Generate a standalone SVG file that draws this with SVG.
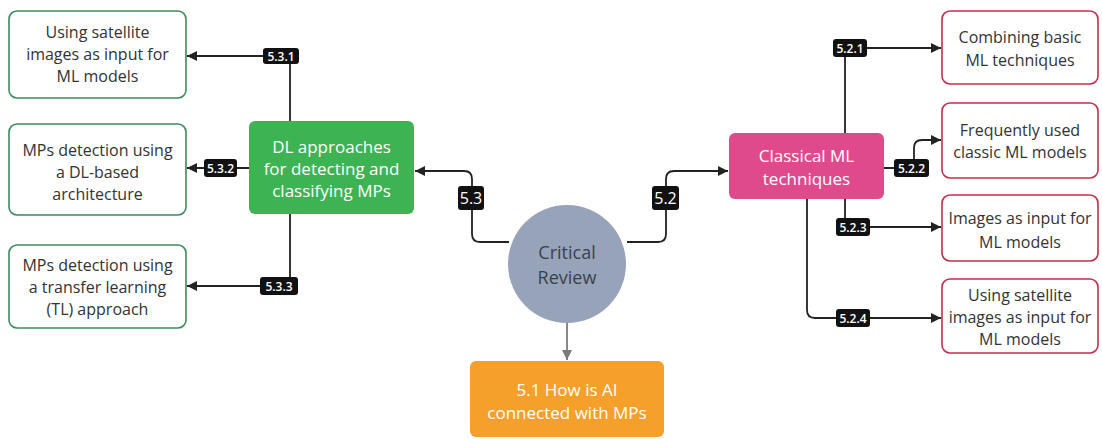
<svg xmlns="http://www.w3.org/2000/svg" width="1102" height="439" viewBox="0 0 1102 439">
  <style>
    text { font-family: "Open Sans", "Noto Sans", "Liberation Sans", sans-serif; text-anchor: middle; }
    .leaf-g { fill: #ffffff; stroke: #3d8a5c; stroke-width: 1.6; }
    .leaf-r { fill: #ffffff; stroke: #c0304f; stroke-width: 1.6; }
    .leaf-t { font-size: 16px; fill: #333333; }
    .hub-t { font-size: 17px; fill: #ffffff; }
    .edge { fill: none; stroke: #222222; stroke-width: 1.8; }
    .edge-gray { fill: none; stroke: #7a7a7a; stroke-width: 1.8; }
    .tag { fill: #111111; }
    .tag-t { font-size: 12px; font-weight: 600; fill: #ffffff; }
    .tag-big { font-size: 16px; fill: #ffffff; }
  </style>
  <defs>
    <marker id="arrow" viewBox="0 0 10 10" refX="10" refY="5" markerWidth="10" markerHeight="10" markerUnits="userSpaceOnUse" orient="auto">
      <path d="M0,0 L10,5 L0,10 z" fill="#222222"/>
    </marker>
    <marker id="arrow-gray" viewBox="0 0 10 10" refX="10" refY="5" markerWidth="10" markerHeight="10" markerUnits="userSpaceOnUse" orient="auto">
      <path d="M0,0 L10,5 L0,10 z" fill="#7a7a7a"/>
    </marker>
  </defs>

  <rect width="1102" height="439" fill="#ffffff"/>

  <!-- connectors -->
  <g id="connectors">
    <path class="edge" d="M290,121 V56 H187" marker-end="url(#arrow)"/>
    <path class="edge" d="M249,168 H187" marker-end="url(#arrow)"/>
    <path class="edge" d="M290,214 V286 H187" marker-end="url(#arrow)"/>
    <path class="edge" d="M509,242 H480 Q472,242 472,234 V179 Q472,171 464,171 H415" marker-end="url(#arrow)"/>
    <path class="edge" d="M627,242 H658 Q666,242 666,234 V179 Q666,171 674,171 H728" marker-end="url(#arrow)"/>
    <path class="edge-gray" d="M567,323 V360" marker-end="url(#arrow-gray)"/>
    <path class="edge" d="M845,133 V48 H941" marker-end="url(#arrow)"/>
    <path class="edge" d="M884,168 H914 V148 Q914,140 922,140 H941" marker-end="url(#arrow)"/>
    <path class="edge" d="M845,199 V227 H941" marker-end="url(#arrow)"/>
    <path class="edge" d="M807,199 V310 Q807,318 815,318 H941" marker-end="url(#arrow)"/>

    <!-- section tags -->
    <rect class="tag" x="263" y="48" width="36" height="16" rx="3"/>
    <text class="tag-t" x="281" y="60.5">5.3.1</text>
    <rect class="tag" x="204" y="159" width="33" height="18" rx="3"/>
    <text class="tag-t" x="220.5" y="172.5">5.3.2</text>
    <rect class="tag" x="260" y="277" width="38" height="18" rx="3"/>
    <text class="tag-t" x="279" y="290.5">5.3.3</text>
    <rect class="tag" x="458" y="186" width="26" height="24" rx="3"/>
    <text class="tag-big" x="471" y="204">5.3</text>
    <rect class="tag" x="652" y="186" width="27" height="24" rx="3"/>
    <text class="tag-big" x="665.5" y="204">5.2</text>
    <rect class="tag" x="833" y="39" width="34" height="18" rx="3"/>
    <text class="tag-t" x="850" y="52.5">5.2.1</text>
    <rect class="tag" x="894" y="159" width="35" height="18" rx="3"/>
    <text class="tag-t" x="911.5" y="172.5">5.2.2</text>
    <rect class="tag" x="836" y="218" width="34" height="18" rx="3"/>
    <text class="tag-t" x="853" y="231.5">5.2.3</text>
    <rect class="tag" x="836" y="309" width="34" height="18" rx="3"/>
    <text class="tag-t" x="853" y="322.5">5.2.4</text>
  </g>

  <!-- central node -->
  <g id="critical-review">
    <circle cx="567" cy="264" r="59" fill="#97a3b8"/>
    <text x="567" y="259" font-size="18" fill="#3c414c">Critical</text>
    <text x="567" y="284" font-size="18" fill="#3c414c">Review</text>
  </g>

  <!-- 5.1 -->
  <g id="ai-mps">
    <rect x="470" y="361" width="194" height="76" rx="6" fill="#f5a02a"/>
    <text class="hub-t" x="567" y="396">5.1 How is AI</text>
    <text class="hub-t" x="567" y="419">connected with MPs</text>
  </g>

  <!-- 5.3 branch -->
  <g id="dl-approaches">
    <rect x="249" y="121" width="165" height="93" rx="6" fill="#3db353"/>
    <text class="hub-t" x="331.5" y="153">DL approaches</text>
    <text class="hub-t" x="331.5" y="175">for detecting and</text>
    <text class="hub-t" x="331.5" y="197">classifying MPs</text>
  </g>
  <g id="dl-satellite">
    <rect class="leaf-g" x="9" y="11" width="177" height="87" rx="8"/>
    <text class="leaf-t" x="97.5" y="38">Using satellite</text>
    <text class="leaf-t" x="97.5" y="60">images as input for</text>
    <text class="leaf-t" x="97.5" y="82">ML models</text>
  </g>
  <g id="dl-architecture">
    <rect class="leaf-g" x="9" y="124" width="177" height="91" rx="8"/>
    <text class="leaf-t" x="97.5" y="156">MPs detection using</text>
    <text class="leaf-t" x="97.5" y="178">a DL-based</text>
    <text class="leaf-t" x="97.5" y="200">architecture</text>
  </g>
  <g id="dl-transfer">
    <rect class="leaf-g" x="9" y="245" width="177" height="83" rx="8"/>
    <text class="leaf-t" x="97.5" y="271">MPs detection using</text>
    <text class="leaf-t" x="97.5" y="293">a transfer learning</text>
    <text class="leaf-t" x="97.5" y="315">(TL) approach</text>
  </g>

  <!-- 5.2 branch -->
  <g id="classical-ml">
    <rect x="729" y="133" width="155" height="66" rx="6" fill="#df4a8c"/>
    <text class="hub-t" x="806.5" y="162">Classical ML</text>
    <text class="hub-t" x="806.5" y="185">techniques</text>
  </g>
  <g id="ml-combining">
    <rect class="leaf-r" x="942" y="11" width="156" height="73" rx="8"/>
    <text class="leaf-t" x="1020" y="43">Combining basic</text>
    <text class="leaf-t" x="1020" y="66">ML techniques</text>
  </g>
  <g id="ml-frequent">
    <rect class="leaf-r" x="942" y="103" width="156" height="75" rx="8"/>
    <text class="leaf-t" x="1020" y="136">Frequently used</text>
    <text class="leaf-t" x="1020" y="158">classic ML models</text>
  </g>
  <g id="ml-images">
    <rect class="leaf-r" x="942" y="195" width="156" height="66" rx="8"/>
    <text class="leaf-t" x="1020" y="224">Images as input for</text>
    <text class="leaf-t" x="1020" y="248">ML models</text>
  </g>
  <g id="ml-satellite">
    <rect class="leaf-r" x="942" y="279" width="156" height="74" rx="8"/>
    <text class="leaf-t" x="1020" y="301">Using satellite</text>
    <text class="leaf-t" x="1020" y="323">images as input for</text>
    <text class="leaf-t" x="1020" y="345">ML models</text>
  </g>
</svg>
